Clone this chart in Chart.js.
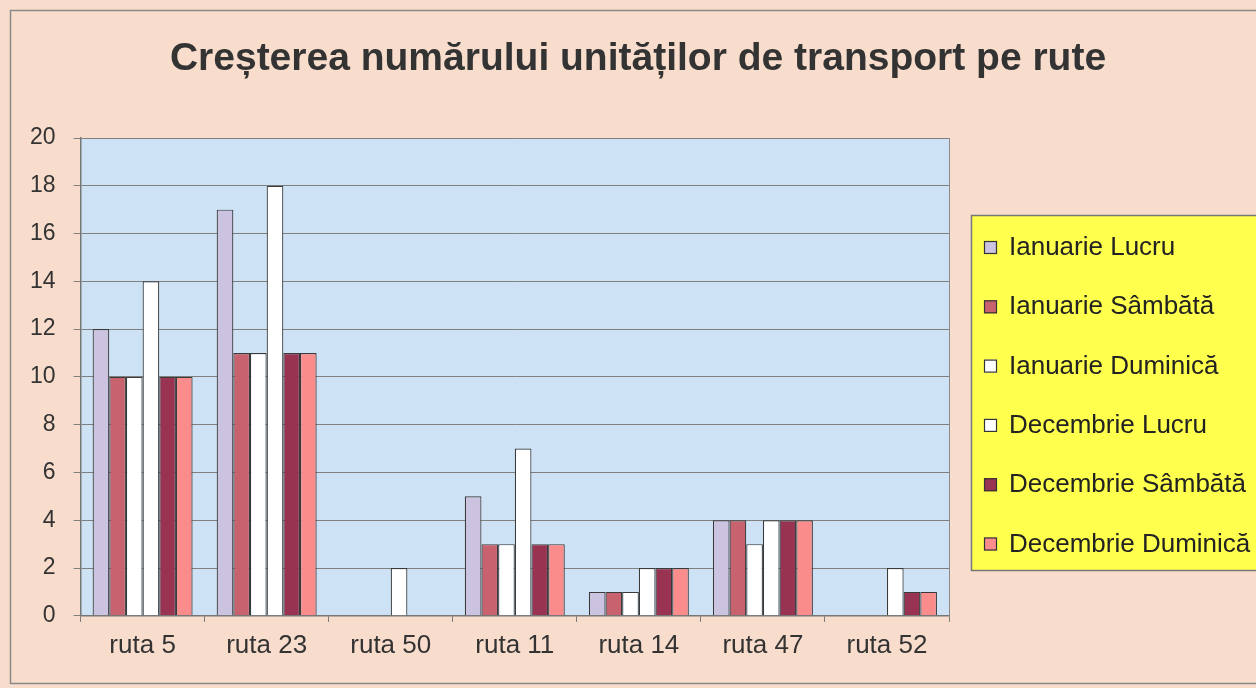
<!DOCTYPE html>
<html>
<head>
<meta charset="utf-8">
<script src="https://cdn.jsdelivr.net/npm/chart.js@4/dist/chart.umd.min.js"></script>
<style>
html,body{margin:0;padding:0;background:#F8DCCC;}
#wrap{width:1256px;height:688px;position:relative;}
</style>
</head>
<body>
<div id="wrap"><canvas id="c" width="1256" height="688"></canvas></div>
<script>
const categories = ['ruta 5','ruta 23','ruta 50','ruta 11','ruta 14','ruta 47','ruta 52'];
const ianuarieLucru    = [12, 17, 0, 5, 1, 4, 0];
const ianuarieSambata  = [10, 11, 0, 3, 1, 4, 0];
const ianuarieDuminica = [10, 11, 0, 3, 1, 3, 0];
const decembrieLucru   = [14, 18, 2, 7, 2, 4, 2];
const decembrieSambata = [10, 11, 0, 3, 2, 4, 1];
const decembrieDuminica= [10, 11, 0, 3, 2, 4, 1];
const seriesNames = ['Ianuarie Lucru','Ianuarie Sâmbătă','Ianuarie Duminică','Decembrie Lucru','Decembrie Sâmbătă','Decembrie Duminică'];
const yTicks = [0,2,4,6,8,10,12,14,16,18,20];
const titleText = 'Creșterea numărului unităților de transport pe rute';

const colors = ['#CBC3DF','#C9626F','#FFFFFF','#FFFFFF','#983352','#FB8C8C'];
const seriesData = [ianuarieLucru, ianuarieSambata, ianuarieDuminica, decembrieLucru, decembrieSambata, decembrieDuminica];

const FONT = "'Liberation Sans', Arial, sans-serif";

const bgPlugin = {
  id: 'bg',
  beforeDraw(chart) {
    const ctx = chart.ctx;
    ctx.save();
    ctx.fillStyle = '#F8DCCC';
    ctx.fillRect(0, 0, chart.width, chart.height);
    ctx.strokeStyle = '#8a8a8a';
    ctx.lineWidth = 1.5;
    ctx.strokeRect(10.5, 10.5, chart.width + 10, chart.height - 15);
    const a = chart.chartArea;
    ctx.fillStyle = '#CDE3F5';
    ctx.fillRect(a.left, a.top, a.right - a.left, a.bottom - a.top);
    // title
    ctx.fillStyle = '#333';
    ctx.font = 'bold 39px ' + FONT;
    ctx.textAlign = 'center';
    ctx.textBaseline = 'alphabetic';
    ctx.fillText(titleText, 638, 70);
    ctx.restore();
  },
  afterDraw(chart) {
    const ctx = chart.ctx;
    const a = chart.chartArea;
    ctx.save();
    ctx.strokeStyle = '#8a8a8a';
    ctx.lineWidth = 1;
    ctx.beginPath();
    ctx.moveTo(Math.round(a.right) + 0.5, a.top);
    ctx.lineTo(Math.round(a.right) + 0.5, a.bottom);
    ctx.stroke();
    // legend
    const lx = 971, ly = 215, lw = 300, lh = 355;
    ctx.fillStyle = '#FFFF4E';
    ctx.fillRect(lx, ly, lw, lh);
    ctx.strokeStyle = '#777';
    ctx.lineWidth = 1.5;
    ctx.strokeRect(lx + 0.5, ly + 0.5, lw, lh);
    ctx.font = '26px ' + FONT;
    ctx.textBaseline = 'middle';
    ctx.textAlign = 'left';
    chart.data.datasets.forEach((ds, i) => {
      const cy = 247 + i * 59.3;
      ctx.fillStyle = ds.backgroundColor;
      ctx.fillRect(984, cy - 6, 13, 13);
      ctx.strokeStyle = '#333';
      ctx.lineWidth = 1.2;
      ctx.strokeRect(984.5, cy - 5.5, 12, 12);
      ctx.fillStyle = '#222';
      ctx.fillText(ds.label, 1009, cy + 1);
    });
    ctx.restore();
  }
};

new Chart(document.getElementById('c'), {
  type: 'bar',
  data: {
    labels: categories,
    datasets: seriesData.map((d, i) => ({
      label: seriesNames[i],
      data: d,
      backgroundColor: colors[i],
      borderColor: '#3a3a3a',
      borderWidth: 1.2,
      borderSkipped: 'bottom',
      categoryPercentage: 0.806,
      barPercentage: 1.0
    }))
  },
  options: {
    responsive: false,
    animation: false,
    devicePixelRatio: 1,
    layout: { padding: { left: 12, right: 307, top: 138, bottom: 19 } },
    plugins: {
      legend: { display: false },
      tooltip: { enabled: false },
      title: { display: false }
    },
    scales: {
      x: {
        offset: true,
        grid: { display: true, drawOnChartArea: false, drawTicks: true, tickLength: 6, color: '#777', offset: true },
        border: { display: true, color: '#777', width: 1.5 },
        ticks: { color: '#333', font: { family: FONT, size: 26 }, padding: 8 }
      },
      y: {
        min: 0, max: 20,
        afterBuildTicks(scale) { scale.ticks = yTicks.map(v => ({ value: v })); },
        grid: { color: '#808080', lineWidth: 1, drawTicks: true, tickLength: 7 },
        border: { display: true, color: '#777', width: 1.5 },
        ticks: { color: '#333', font: { family: FONT, size: 23 }, padding: 18 }
      }
    }
  },
  plugins: [bgPlugin]
});
</script>
</body>
</html>
